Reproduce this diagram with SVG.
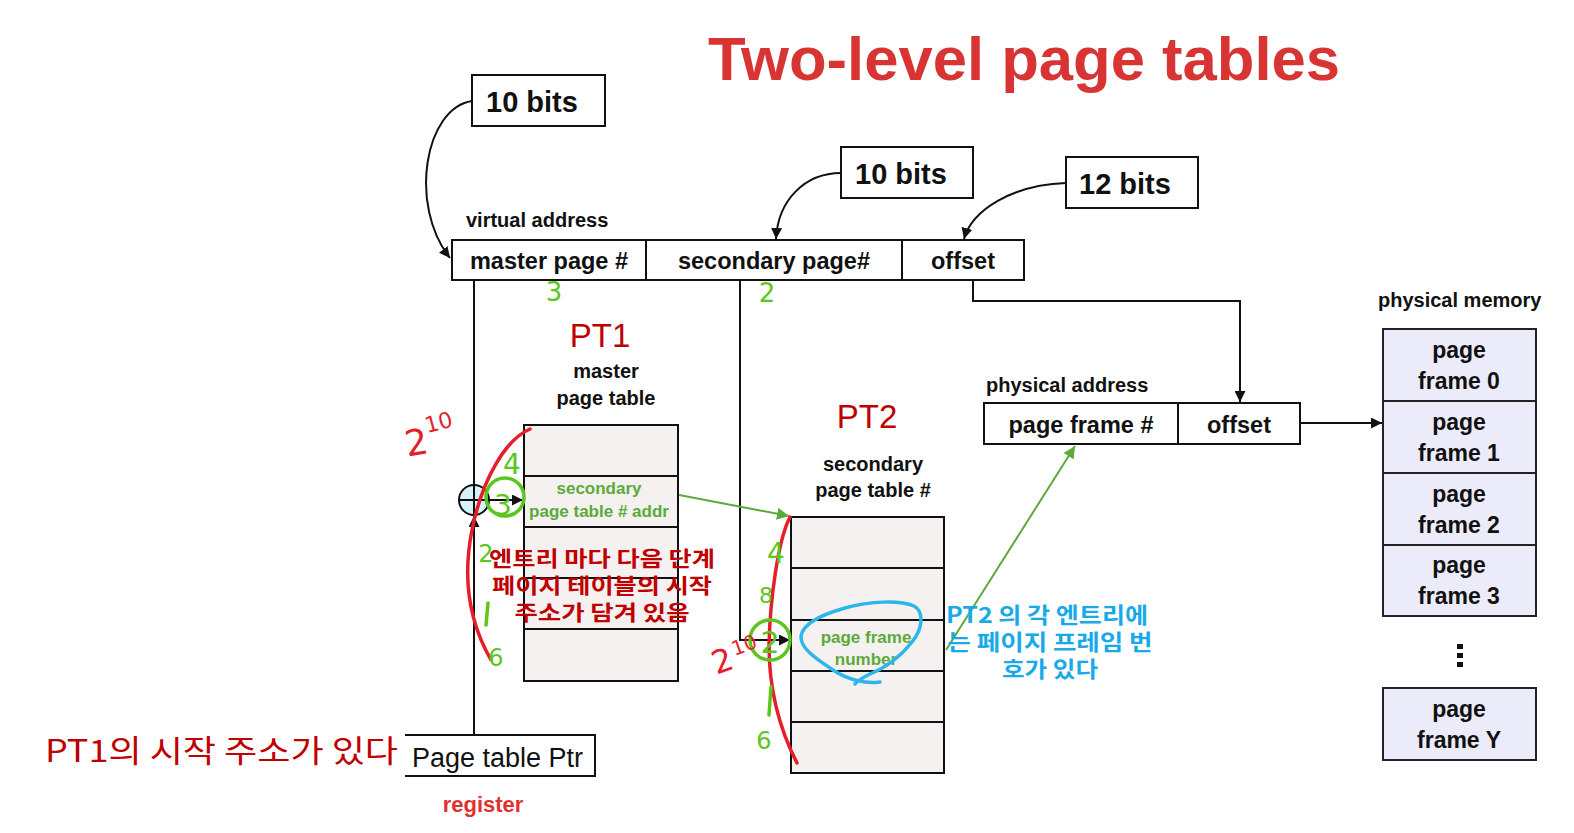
<svg xmlns="http://www.w3.org/2000/svg" width="1574" height="833" viewBox="0 0 1574 833">
<style>
.box{fill:#fff;stroke:#111;stroke-width:2}
.pt{fill:#F4F1F0;stroke:#111;stroke-width:2}
.pm{fill:#EBEBFA;stroke:#222;stroke-width:2}
.b{font-family:"Liberation Sans",Arial,sans-serif;font-weight:bold;fill:#111}
.r{font-family:"Liberation Sans",Arial,sans-serif;fill:#111}
.g{font-family:"Liberation Sans",Arial,sans-serif;font-weight:bold;fill:#5BAA3A;font-size:17px}
.kr{font-family:"Noto Sans CJK KR","Noto Sans",sans-serif;font-weight:bold}
.ln{fill:none;stroke:#111;stroke-width:2}
.gl{fill:none;stroke:#5BAA3A;stroke-width:2}
.hr{fill:none;stroke:#E41E2B;stroke-width:3.5;stroke-linecap:round}
.hg{fill:none;stroke:#5CC61E;stroke-width:3.5;stroke-linecap:round}
.hgt{font-family:"DejaVu Sans",sans-serif;fill:#5CC61E}
.hrt{font-family:"DejaVu Sans",sans-serif;fill:#E41E2B}
</style>
<defs>
<marker id="ab" viewBox="0 0 10 10" refX="10" refY="5" markerWidth="11" markerHeight="11" markerUnits="userSpaceOnUse" orient="auto"><path d="M0,0 L10,5 L0,10 z" fill="#111"/></marker>
<marker id="ag" viewBox="0 0 10 10" refX="10" refY="5" markerWidth="12" markerHeight="12" markerUnits="userSpaceOnUse" orient="auto"><path d="M0,0 L10,5 L0,10 z" fill="#5BAA3A"/></marker>
</defs>
<rect width="1574" height="833" fill="#fff"/>

<text id="title" x="708" y="80" font-family="Liberation Sans, Arial, sans-serif" font-weight="bold" font-size="61" fill="#D93434" textLength="632" lengthAdjust="spacingAndGlyphs">Two-level page tables</text>

<g id="bits1"><rect class="box" x="472" y="75" width="133" height="51"/><text class="b" x="486" y="112" font-size="29">10 bits</text></g>
<g id="bits2"><rect class="box" x="841" y="147" width="132" height="51"/><text class="b" x="855" y="184" font-size="29">10 bits</text></g>
<g id="bits3"><rect class="box" x="1066" y="157" width="132" height="51"/><text class="b" x="1079" y="194" font-size="29">12 bits</text></g>

<g id="vaddr">
<text class="b" x="466" y="227" font-size="20">virtual address</text>
<rect class="box" x="452" y="240" width="572" height="40"/>
<line class="ln" x1="646" y1="240" x2="646" y2="280"/>
<line class="ln" x1="902" y1="240" x2="902" y2="280"/>
<text class="b" x="549" y="269" font-size="23.5" text-anchor="middle">master page #</text>
<text class="b" x="774" y="269" font-size="23.5" text-anchor="middle">secondary page#</text>
<text class="b" x="963" y="269" font-size="23.5" text-anchor="middle">offset</text>
</g>

<g id="pt1">
<text x="600" y="347" font-family="Liberation Sans, Arial, sans-serif" font-size="33" fill="#C00000" text-anchor="middle">PT1</text>
<text class="b" x="606" y="378" font-size="20" text-anchor="middle">master</text>
<text class="b" x="606" y="405" font-size="20" text-anchor="middle">page table</text>
<rect class="pt" x="524" y="425" width="154" height="51"/>
<rect class="pt" x="524" y="476" width="154" height="51"/>
<rect class="pt" x="524" y="527" width="154" height="51"/>
<rect class="pt" x="524" y="578" width="154" height="51"/>
<rect class="pt" x="524" y="629" width="154" height="52"/>
<text class="g" x="599" y="494" text-anchor="middle">secondary</text>
<text class="g" x="599" y="517" font-size="16.5" text-anchor="middle">page table # addr</text>
</g>

<g id="pt2">
<text x="867" y="428" font-family="Liberation Sans, Arial, sans-serif" font-size="33" fill="#C00000" text-anchor="middle">PT2</text>
<text class="b" x="873" y="471" font-size="20" text-anchor="middle">secondary</text>
<text class="b" x="873" y="497" font-size="20" text-anchor="middle">page table #</text>
<rect class="pt" x="791" y="517" width="153" height="51"/>
<rect class="pt" x="791" y="568" width="153" height="52"/>
<rect class="pt" x="791" y="620" width="153" height="51"/>
<rect class="pt" x="791" y="671" width="153" height="51"/>
<rect class="pt" x="791" y="722" width="153" height="51"/>
<text class="g" x="866" y="643" text-anchor="middle">page frame</text>
<text class="g" x="866" y="665" text-anchor="middle">number</text>
</g>

<g id="paddr">
<text class="b" x="986" y="392" font-size="20">physical address</text>
<rect class="box" x="984" y="403" width="316" height="41"/>
<line class="ln" x1="1178" y1="403" x2="1178" y2="444"/>
<text class="b" x="1081" y="433" font-size="23.5" text-anchor="middle">page frame #</text>
<text class="b" x="1239" y="433" font-size="23.5" text-anchor="middle">offset</text>
</g>

<g id="pmem">
<text class="b" x="1378" y="307" font-size="20">physical memory</text>
<rect class="pm" x="1383" y="329" width="153" height="72"/>
<rect class="pm" x="1383" y="401" width="153" height="72"/>
<rect class="pm" x="1383" y="473" width="153" height="72"/>
<rect class="pm" x="1383" y="545" width="153" height="71"/>
<rect class="pm" x="1383" y="688" width="153" height="72"/>
<g class="b" font-size="23" text-anchor="middle">
<text x="1459" y="358">page</text><text x="1459" y="389">frame 0</text>
<text x="1459" y="430">page</text><text x="1459" y="461">frame 1</text>
<text x="1459" y="502">page</text><text x="1459" y="533">frame 2</text>
<text x="1459" y="573">page</text><text x="1459" y="604">frame 3</text>
<text x="1459" y="717">page</text><text x="1459" y="748">frame Y</text>
</g>
<rect x="1457" y="644" width="6" height="5" fill="#111"/>
<rect x="1457" y="653" width="6" height="5" fill="#111"/>
<rect x="1457" y="662" width="6" height="5" fill="#111"/>
</g>

<g id="ptr">
<path class="ln" d="M405,735 H595 V776 H405"/>
<text class="r" x="412" y="767" font-size="27">Page table Ptr</text>
<text x="483" y="812" font-family="Liberation Sans, Arial, sans-serif" font-weight="bold" font-size="22" fill="#E03030" text-anchor="middle">register</text>
</g>

<g id="adder">
<circle cx="474" cy="500" r="15" fill="#D6F3FA" stroke="#111" stroke-width="2"/>
<line class="ln" x1="459" y1="500" x2="489" y2="500"/>
<line class="ln" x1="474" y1="485" x2="474" y2="515"/>
</g>

<g id="connectors">
<path class="ln" d="M472,101 C425,108 408,205 450,258" marker-end="url(#ab)"/>
<path class="ln" d="M841,173 C805,173 778,200 776,239" marker-end="url(#ab)"/>
<path class="ln" d="M1066,183 C1012,185 972,210 964,239" marker-end="url(#ab)"/>
<line class="ln" x1="474" y1="280" x2="474" y2="485"/>
<line class="ln" x1="474" y1="735" x2="474" y2="516" marker-end="url(#ab)"/>
<line class="ln" x1="489" y1="500" x2="523" y2="500" marker-end="url(#ab)"/>
<path class="ln" d="M740,280 V640 H790" marker-end="url(#ab)"/>
<path class="ln" d="M973,280 V301 H1240 V402" marker-end="url(#ab)"/>
<line class="ln" x1="1300" y1="423" x2="1382" y2="423" marker-end="url(#ab)"/>
<line class="gl" x1="679" y1="495" x2="789" y2="516" marker-end="url(#ag)"/>
<line class="gl" x1="946" y1="650" x2="1075" y2="446" marker-end="url(#ag)"/>
</g>

<g id="notes">
<g class="kr" font-size="21" fill="#C00000" text-anchor="middle">
<text x="602" y="566" textLength="226" lengthAdjust="spacingAndGlyphs">엔트리 마다 다음 단계</text>
<text x="602" y="593" textLength="220" lengthAdjust="spacingAndGlyphs">페이지 테이블의 시작</text>
<text x="602" y="620" textLength="175" lengthAdjust="spacingAndGlyphs">주소가 담겨 있음</text>
</g>
<g class="kr" font-size="22" fill="#1AA9E8" text-anchor="middle">
<text x="1047" y="623" textLength="202" lengthAdjust="spacingAndGlyphs">PT2 의 각 엔트리에</text>
<text x="1050" y="650" textLength="205" lengthAdjust="spacingAndGlyphs">는 페이지 프레임 번</text>
<text x="1050" y="677" textLength="96" lengthAdjust="spacingAndGlyphs">호가 있다</text>
</g>
<text x="45" y="762" font-family="Noto Sans CJK KR, Noto Sans, sans-serif" font-size="31" fill="#C00000" textLength="353" lengthAdjust="spacingAndGlyphs">PT1의 시작 주소가 있다</text>
</g>

<g id="handwriting">
<path class="hr" d="M530,429 C505,440 482,480 472,530 C463,575 468,620 491,660"/>
<path class="hr" d="M790,517 C778,540 770,600 769,645 C769,690 780,730 797,763"/>
<path fill="none" stroke="#2BB6EC" stroke-width="3.5" stroke-linecap="round" d="M880,682 C866,684 848,680 833,670 C815,658 800,648 801,636 C803,624 820,615 845,608 C870,601 900,600 914,606 C925,612 922,630 912,642 C900,657 885,668 870,674 C862,678 857,681 855,684"/>
<circle class="hg" cx="505" cy="497" r="19"/>
<circle class="hg" cx="770" cy="640" r="20"/>
<text class="hgt" x="554" y="301" font-size="26" text-anchor="middle">3</text>
<text class="hgt" x="767" y="302" font-size="26" text-anchor="middle">2</text>
<text class="hgt" x="512" y="474" font-size="28" text-anchor="middle">4</text>
<text class="hgt" x="503" y="515" font-size="28" text-anchor="middle">3</text>
<text class="hgt" x="486" y="562" font-size="24" text-anchor="middle">2</text>
<path class="hg" d="M488,603 L486,625"/>
<text class="hgt" x="496" y="666" font-size="24" text-anchor="middle">6</text>
<text class="hgt" x="776" y="563" font-size="28" text-anchor="middle">4</text>
<text class="hgt" x="766" y="603" font-size="22" text-anchor="middle">8</text>
<text class="hgt" x="770" y="653" font-size="30" text-anchor="middle">2</text>
<path class="hg" d="M771,687 L769,715"/>
<text class="hgt" x="764" y="749" font-size="24" text-anchor="middle">6</text>
<text class="hrt" x="416" y="455" font-size="36" text-anchor="middle" transform="rotate(-10 416 440)">2</text>
<text class="hrt" x="438" y="430" font-size="22" text-anchor="middle" transform="rotate(-15 438 420)">10</text>
<text class="hrt" x="722" y="672" font-size="32" text-anchor="middle" transform="rotate(-20 722 660)">2</text>
<text class="hrt" x="744" y="652" font-size="20" text-anchor="middle" transform="rotate(-20 744 645)">10</text>
</g>
</svg>
